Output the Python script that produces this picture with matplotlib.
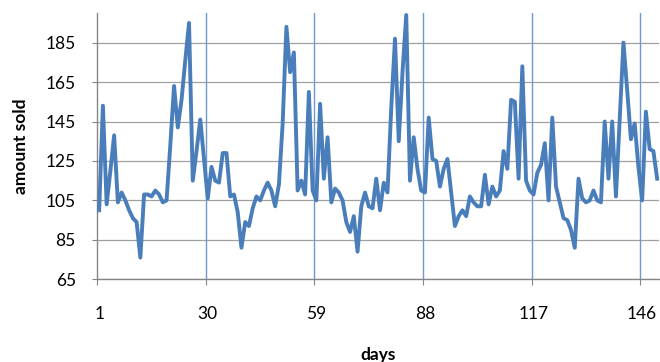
import matplotlib.pyplot as plt

# daily sales
days = list(range(1, 151))
amount_sold = [
    100, 153, 103, 120, 138, 104, 109, 105, 100, 96,
    94, 76, 108, 108, 107, 110, 108, 104, 105, 133,
    163, 142, 156, 176, 195, 115, 130, 146, 126, 106,
    122, 115, 114, 129, 129, 107, 108, 99, 81, 94,
    92, 101, 107, 105, 110, 114, 110, 102, 113, 144,
    193, 170, 180, 110, 115, 108, 160, 110, 105, 154,
    116, 137, 104, 111, 109, 105, 94, 89, 97, 79,
    102, 109, 102, 101, 116, 100, 114, 109, 152, 187,
    135, 170, 199, 115, 137, 121, 110, 109, 147, 126,
    125, 112, 121, 126, 109, 92, 97, 100, 97, 107,
    104, 102, 102, 118, 103, 112, 107, 110, 130, 121,
    156, 155, 116, 173, 115, 110, 108, 119, 123, 134,
    105, 147, 112, 104, 96, 95, 90, 81, 116, 106,
    104, 105, 110, 105, 104, 145, 116, 145, 107, 146,
    185, 161, 136, 144, 122, 105, 150, 131, 130, 116,
]
x_tick_days = [1, 30, 59, 88, 117, 146]
x_tick_labels = ['1', '30', '59', '88', '117', '146']
y_ticks = [65, 85, 105, 125, 145, 165, 185]

plt.rcParams['font.family'] = ['Lato', 'DejaVu Sans']

fig = plt.figure(figsize=(6.6, 3.62), dpi=100)
ax = fig.add_axes([0.1474, 0.2285, 0.8511, 0.7355])

# gridlines: gray horizontal, blue vertical at the labelled days
for y in y_ticks:
    ax.axhline(y, color='#a0a0a0', lw=0.9, zorder=1)
boundaries = [d - 0.5 for d in x_tick_days]
for b in boundaries[1:]:
    ax.axvline(b, color='#6f98cc', lw=1.0, zorder=1)

ax.plot(days, amount_sold, color='#4a7ebb', lw=2.8, zorder=3)

ax.set_xlim(0.5, 150.5)
ax.set_ylim(65, 200)
ax.set_yticks(y_ticks)
ax.set_xticks(boundaries)
ax.set_xticklabels([])
ax.set_xticks(x_tick_days, minor=True)
ax.set_xticklabels(x_tick_labels, minor=True)

for s in ['top', 'right']:
    ax.spines[s].set_visible(False)
for s in ['left', 'bottom']:
    ax.spines[s].set_color('#868686')
    ax.spines[s].set_linewidth(1.0)

ax.tick_params(axis='y', direction='out', length=3.5, color='#868686',
               labelsize=12.5, pad=12)
ax.tick_params(axis='x', which='major', direction='out', length=4,
               color='#868686')
ax.tick_params(axis='x', which='minor', length=0, labelsize=12.5, pad=19)

ax.set_xlabel('days', fontsize=12.5, fontweight='bold', labelpad=18)
ax.set_ylabel('amount sold', fontsize=12.5, fontweight='bold', labelpad=12)

fig.savefig('out.png', dpi=100)
